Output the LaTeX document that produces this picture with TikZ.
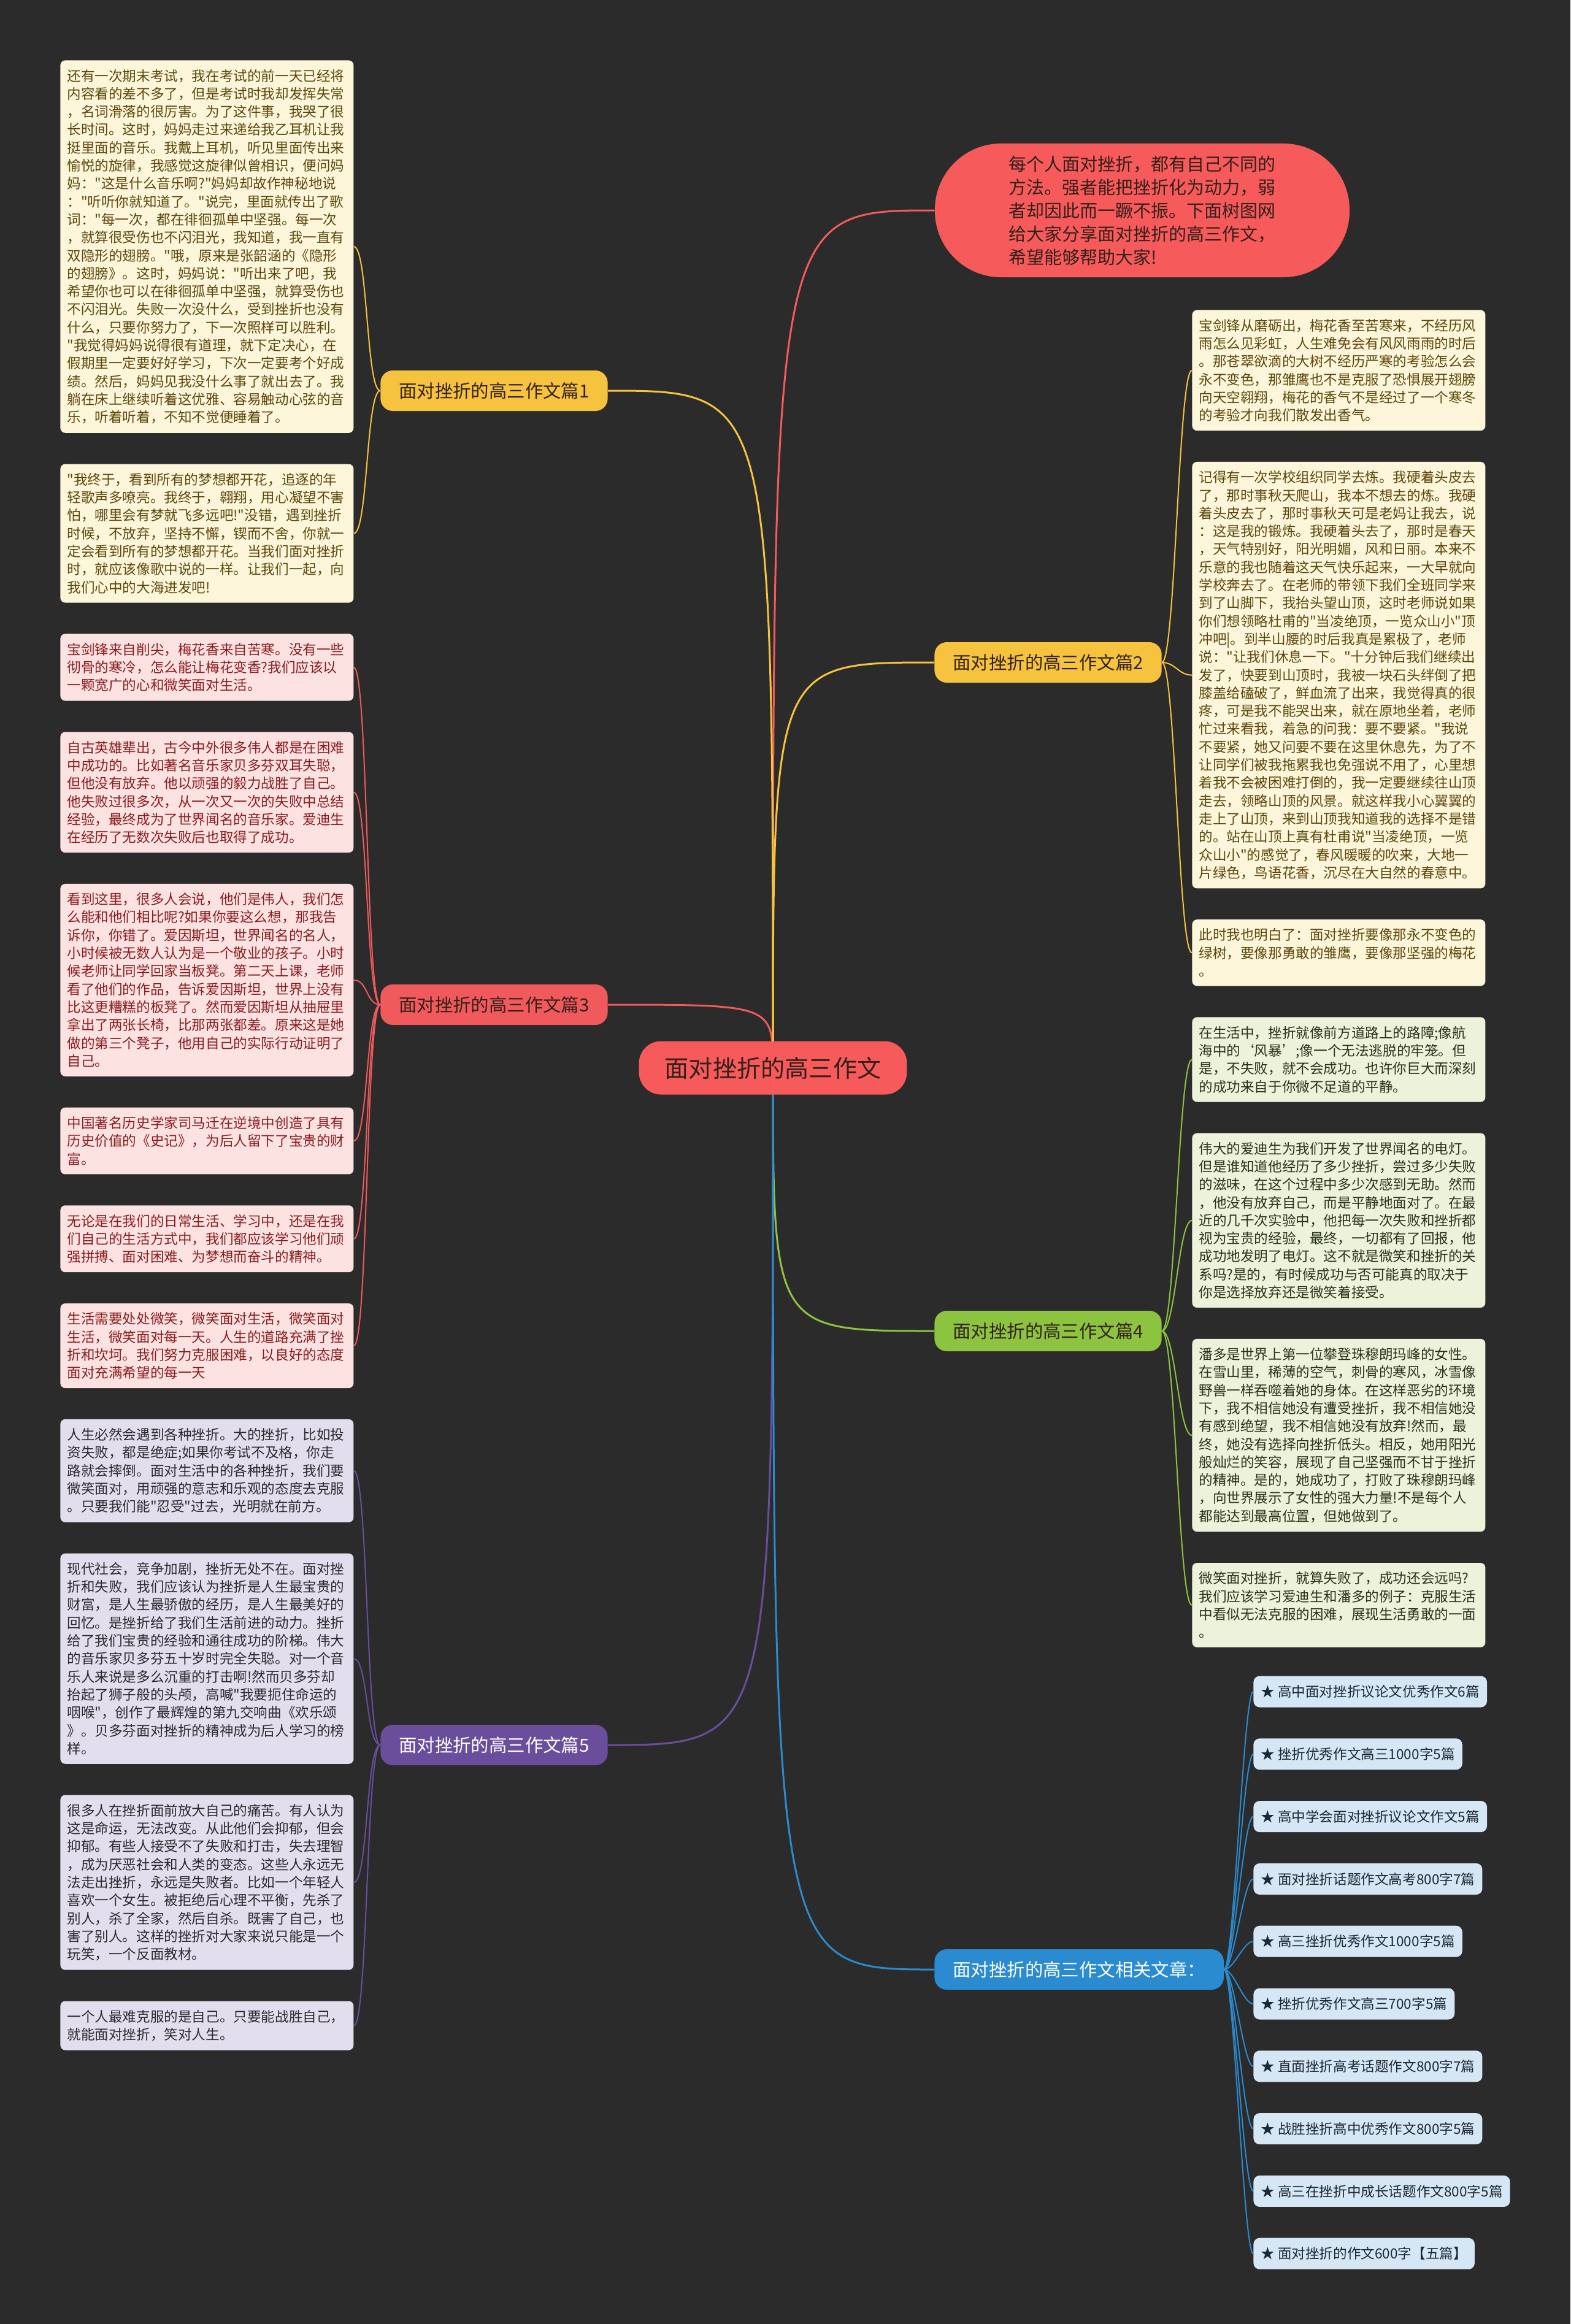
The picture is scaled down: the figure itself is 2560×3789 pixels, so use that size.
\documentclass[tikz,border=0pt]{standalone}
\usepackage{fontspec}
\setmainfont{Noto Sans CJK SC}[Ligatures=TeXOff]
\usetikzlibrary{positioning}
\definecolor{bgdark}{HTML}{2B2B2B}
\definecolor{rootred}{HTML}{F65A5B}
\definecolor{yelbr}{HTML}{F6C33E}
\definecolor{redbr}{HTML}{F05A5C}
\definecolor{purbr}{HTML}{6A4E9C}
\definecolor{grnbr}{HTML}{8CC43F}
\definecolor{blubr}{HTML}{2A8BD0}
\definecolor{yelfill}{HTML}{FDF6DA}
\definecolor{yeltext}{HTML}{5C470A}
\definecolor{redfill}{HTML}{FDE2E2}
\definecolor{redtext}{HTML}{8A1C1E}
\definecolor{purfill}{HTML}{E3DEEE}
\definecolor{purtext}{HTML}{2A2A2E}
\definecolor{grnfill}{HTML}{EDF3DA}
\definecolor{grntext}{HTML}{27331A}
\definecolor{blufill}{HTML}{D5E7F4}
\definecolor{blutext}{HTML}{1C2833}
\definecolor{darkink}{HTML}{33201A}
\pgfdeclarelayer{bg}
\pgfdeclarelayer{links}
\pgfsetlayers{bg,links,main}

\begin{document}
\begin{tikzpicture}[
  x=0.5pt, y=-0.5pt,
  node distance=25pt,
  txt/.style={rounded corners=4pt, text width=228pt, align=left, inner xsep=5.5pt, inner ysep=7.3pt, font=\fontsize{11.3pt}{14.65pt}\selectfont},
  ybox/.style={txt, fill=yelfill, text=yeltext},
  rbox/.style={txt, fill=redfill, text=redtext},
  pbox/.style={txt, fill=purfill, text=purtext},
  gbox/.style={txt, fill=grnfill, text=grntext},
  relbox/.style={rounded corners=5pt, fill=blufill, text=blutext, inner xsep=6pt, minimum height=25.5pt, font=\fontsize{11.3pt}{14pt}\selectfont},
  branch/.style={rounded corners=10pt, minimum height=33pt, inner xsep=15pt, font=\fontsize{14.7pt}{17pt}\selectfont},
  link/.style={line width=1.5pt},
  twig/.style={line width=1pt}
]
\useasboundingbox (0,0) rectangle (2560,3789);
\begin{pgfonlayer}{bg}
\fill[bgdark] (0,0) rectangle (2560,3789);
\end{pgfonlayer}

% root and intro
\node[rounded corners=18pt, fill=rootred, text=darkink, inner xsep=21pt, minimum height=43.5pt, font=\fontsize{19.6pt}{22pt}\selectfont] (root) at (1260,1741) {面对挫折的高三作文};
\node[rounded corners=54pt, fill=rootred, text=darkink, minimum width=338pt, minimum height=109pt, text width=218pt, align=left, font=\fontsize{14.5pt}{19pt}\selectfont] (intro) at (1862,343) {每个人面对挫折，都有自己不同的\\方法。强者能把挫折化为动力，弱\\者却因此而一蹶不振。下面树图网\\给大家分享面对挫折的高三作文，\\希望能够帮助大家!};

% branches
\node[branch, fill=yelbr, text=darkink, anchor=east] (essay1) at (991,637) {面对挫折的高三作文篇1};
\node[branch, fill=redbr, text=darkink, anchor=east] (essay3) at (991,1638) {面对挫折的高三作文篇3};
\node[branch, fill=purbr, text=white, anchor=east] (essay5) at (991,2845) {面对挫折的高三作文篇5};
\node[branch, fill=yelbr, text=darkink, anchor=west] (essay2) at (1523,1080) {面对挫折的高三作文篇2};
\node[branch, fill=grnbr, text=darkink, anchor=west] (essay4) at (1523,2170) {面对挫折的高三作文篇4};
\node[branch, fill=blubr, text=white, anchor=west] (related) at (1523,3211) {面对挫折的高三作文相关文章：};

% left column
\node[ybox, anchor=north west] (e1a) at (98,98) {还有一次期末考试，我在考试的前一天已经将\\内容看的差不多了，但是考试时我却发挥失常\\，名词滑落的很厉害。为了这件事，我哭了很\\长时间。这时，妈妈走过来递给我乙耳机让我\\挺里面的音乐。我戴上耳机，听见里面传出来\\愉悦的旋律，我感觉这旋律似曾相识，便问妈\\妈："这是什么音乐啊?"妈妈却故作神秘地说\\："听听你就知道了。"说完，里面就传出了歌\\词："每一次，都在徘徊孤单中坚强。每一次\\，就算很受伤也不闪泪光，我知道，我一直有\\双隐形的翅膀。"哦，原来是张韶涵的《隐形\\的翅膀》。这时，妈妈说："听出来了吧，我\\希望你也可以在徘徊孤单中坚强，就算受伤也\\不闪泪光。失败一次没什么，受到挫折也没有\\什么，只要你努力了，下一次照样可以胜利。\\"我觉得妈妈说得很有道理，就下定决心，在\\假期里一定要好好学习，下次一定要考个好成\\绩。然后，妈妈见我没什么事了就出去了。我\\躺在床上继续听着这优雅、容易触动心弦的音\\乐，听着听着，不知不觉便睡着了。};
\node[ybox, below=of e1a] (e1b) {"我终于，看到所有的梦想都开花，追逐的年\\轻歌声多嘹亮。我终于，翱翔，用心凝望不害\\怕，哪里会有梦就飞多远吧!"没错，遇到挫折\\时候，不放弃，坚持不懈，锲而不舍，你就一\\定会看到所有的梦想都开花。当我们面对挫折\\时，就应该像歌中说的一样。让我们一起，向\\我们心中的大海进发吧!};
\node[rbox, below=of e1b] (e3a) {宝剑锋来自削尖，梅花香来自苦寒。没有一些\\彻骨的寒冷，怎么能让梅花变香?我们应该以\\一颗宽广的心和微笑面对生活。};
\node[rbox, below=of e3a] (e3b) {自古英雄辈出，古今中外很多伟人都是在困难\\中成功的。比如著名音乐家贝多芬双耳失聪，\\但他没有放弃。他以顽强的毅力战胜了自己。\\他失败过很多次，从一次又一次的失败中总结\\经验，最终成为了世界闻名的音乐家。爱迪生\\在经历了无数次失败后也取得了成功。};
\node[rbox, below=of e3b] (e3c) {看到这里，很多人会说，他们是伟人，我们怎\\么能和他们相比呢?如果你要这么想，那我告\\诉你，你错了。爱因斯坦，世界闻名的名人，\\小时候被无数人认为是一个敬业的孩子。小时\\候老师让同学回家当板凳。第二天上课，老师\\看了他们的作品，告诉爱因斯坦，世界上没有\\比这更糟糕的板凳了。然而爱因斯坦从抽屉里\\拿出了两张长椅，比那两张都差。原来这是她\\做的第三个凳子，他用自己的实际行动证明了\\自己。};
\node[rbox, below=of e3c] (e3d) {中国著名历史学家司马迁在逆境中创造了具有\\历史价值的《史记》，为后人留下了宝贵的财\\富。};
\node[rbox, below=of e3d] (e3e) {无论是在我们的日常生活、学习中，还是在我\\们自己的生活方式中，我们都应该学习他们顽\\强拼搏、面对困难、为梦想而奋斗的精神。};
\node[rbox, below=of e3e] (e3f) {生活需要处处微笑，微笑面对生活，微笑面对\\生活，微笑面对每一天。人生的道路充满了挫\\折和坎坷。我们努力克服困难，以良好的态度\\面对充满希望的每一天};
\node[pbox, below=of e3f] (e5a) {人生必然会遇到各种挫折。大的挫折，比如投\\资失败，都是绝症;如果你考试不及格，你走\\路就会摔倒。面对生活中的各种挫折，我们要\\微笑面对，用顽强的意志和乐观的态度去克服\\。只要我们能"忍受"过去，光明就在前方。};
\node[pbox, below=of e5a] (e5b) {现代社会，竞争加剧，挫折无处不在。面对挫\\折和失败，我们应该认为挫折是人生最宝贵的\\财富，是人生最骄傲的经历，是人生最美好的\\回忆。是挫折给了我们生活前进的动力。挫折\\给了我们宝贵的经验和通往成功的阶梯。伟大\\的音乐家贝多芬五十岁时完全失聪。对一个音\\乐人来说是多么沉重的打击啊!然而贝多芬却\\抬起了狮子般的头颅，高喊"我要扼住命运的\\咽喉"，创作了最辉煌的第九交响曲《欢乐颂\\》。贝多芬面对挫折的精神成为后人学习的榜\\样。};
\node[pbox, below=of e5b] (e5c) {很多人在挫折面前放大自己的痛苦。有人认为\\这是命运，无法改变。从此他们会抑郁，但会\\抑郁。有些人接受不了失败和打击，失去理智\\，成为厌恶社会和人类的变态。这些人永远无\\法走出挫折，永远是失败者。比如一个年轻人\\喜欢一个女生。被拒绝后心理不平衡，先杀了\\别人，杀了全家，然后自杀。既害了自己，也\\害了别人。这样的挫折对大家来说只能是一个\\玩笑，一个反面教材。};
\node[pbox, below=of e5c] (e5d) {一个人最难克服的是自己。只要能战胜自己，\\就能面对挫折，笑对人生。};

% right column
\node[ybox, anchor=north west] (e2a) at (1943,505) {宝剑锋从磨砺出，梅花香至苦寒来，不经历风\\雨怎么见彩虹，人生难免会有风风雨雨的时后\\。那苍翠欲滴的大树不经历严寒的考验怎么会\\永不变色，那雏鹰也不是克服了恐惧展开翅膀\\向天空翱翔，梅花的香气不是经过了一个寒冬\\的考验才向我们散发出香气。};
\node[ybox, below=of e2a] (e2b) {记得有一次学校组织同学去炼。我硬着头皮去\\了，那时事秋天爬山，我本不想去的炼。我硬\\着头皮去了，那时事秋天可是老妈让我去，说\\：这是我的锻炼。我硬着头去了，那时是春天\\，天气特别好，阳光明媚，风和日丽。本来不\\乐意的我也随着这天气快乐起来，一大早就向\\学校奔去了。在老师的带领下我们全班同学来\\到了山脚下，我抬头望山顶，这时老师说如果\\你们想领略杜甫的"当凌绝顶，一览众山小"顶\\冲吧|。到半山腰的时后我真是累极了，老师\\说："让我们休息一下。"十分钟后我们继续出\\发了，快要到山顶时，我被一块石头绊倒了把\\膝盖给磕破了，鲜血流了出来，我觉得真的很\\疼，可是我不能哭出来，就在原地坐着，老师\\忙过来看我，着急的问我：要不要紧。"我说\\不要紧，她又问要不要在这里休息先，为了不\\让同学们被我拖累我也免强说不用了，心里想\\着我不会被困难打倒的，我一定要继续往山顶\\走去，领略山顶的风景。就这样我小心翼翼的\\走上了山顶，来到山顶我知道我的选择不是错\\的。站在山顶上真有杜甫说"当凌绝顶，一览\\众山小"的感觉了，春风暖暖的吹来，大地一\\片绿色，鸟语花香，沉尽在大自然的春意中。};
\node[ybox, below=of e2b] (e2c) {此时我也明白了：面对挫折要像那永不变色的\\绿树，要像那勇敢的雏鹰，要像那坚强的梅花\\。};
\node[gbox, below=of e2c] (e4a) {在生活中，挫折就像前方道路上的路障;像航\\海中的‘风暴’;像一个无法逃脱的牢笼。但\\是，不失败，就不会成功。也许你巨大而深刻\\的成功来自于你微不足道的平静。};
\node[gbox, below=of e4a] (e4b) {伟大的爱迪生为我们开发了世界闻名的电灯。\\但是谁知道他经历了多少挫折，尝过多少失败\\的滋味，在这个过程中多少次感到无助。然而\\，他没有放弃自己，而是平静地面对了。在最\\近的几千次实验中，他把每一次失败和挫折都\\视为宝贵的经验，最终，一切都有了回报，他\\成功地发明了电灯。这不就是微笑和挫折的关\\系吗?是的，有时候成功与否可能真的取决于\\你是选择放弃还是微笑着接受。};
\node[gbox, below=of e4b] (e4c) {潘多是世界上第一位攀登珠穆朗玛峰的女性。\\在雪山里，稀薄的空气，刺骨的寒风，冰雪像\\野兽一样吞噬着她的身体。在这样恶劣的环境\\下，我不相信她没有遭受挫折，我不相信她没\\有感到绝望，我不相信她没有放弃!然而，最\\终，她没有选择向挫折低头。相反，她用阳光\\般灿烂的笑容，展现了自己坚强而不甘于挫折\\的精神。是的，她成功了，打败了珠穆朗玛峰\\，向世界展示了女性的强大力量!不是每个人\\都能达到最高位置，但她做到了。};
\node[gbox, below=of e4c] (e4d) {微笑面对挫折，就算失败了，成功还会远吗?\\我们应该学习爱迪生和潘多的例子：克服生活\\中看似无法克服的困难，展现生活勇敢的一面\\。};

% related articles
\node[relbox, anchor=west] (rel1) at (2043,2758) {★ 高中面对挫折议论文优秀作文6篇};
\node[relbox, below=of rel1.south west, anchor=north west] (rel2) {★ 挫折优秀作文高三1000字5篇};
\node[relbox, below=of rel2.south west, anchor=north west] (rel3) {★ 高中学会面对挫折议论文作文5篇};
\node[relbox, below=of rel3.south west, anchor=north west] (rel4) {★ 面对挫折话题作文高考800字7篇};
\node[relbox, below=of rel4.south west, anchor=north west] (rel5) {★ 高三挫折优秀作文1000字5篇};
\node[relbox, below=of rel5.south west, anchor=north west] (rel6) {★ 挫折优秀作文高三700字5篇};
\node[relbox, below=of rel6.south west, anchor=north west] (rel7) {★ 直面挫折高考话题作文800字7篇};
\node[relbox, below=of rel7.south west, anchor=north west] (rel8) {★ 战胜挫折高中优秀作文800字5篇};
\node[relbox, below=of rel8.south west, anchor=north west] (rel9) {★ 高三在挫折中成长话题作文800字5篇};
\node[relbox, below=of rel9.south west, anchor=north west] (rel10) {★ 面对挫折的作文600字【五篇】};

\begin{pgfonlayer}{links}
% root to branches
\draw[link, rootred] (root.center) .. controls (root.center |- intro.west) .. (intro.west);
\draw[link, yelbr] (root.center) .. controls (root.center |- essay1.east) .. (essay1.east);
\draw[link, redbr] (root.center) .. controls (root.center |- essay3.east) .. (essay3.east);
\draw[link, purbr] (root.center) .. controls (root.center |- essay5.east) .. (essay5.east);
\draw[link, yelbr] (root.center) .. controls (root.center |- essay2.west) .. (essay2.west);
\draw[link, grnbr] (root.center) .. controls (root.center |- essay4.west) .. (essay4.west);
\draw[link, blubr] (root.center) .. controls (root.center |- related.west) .. (related.west);
% branches to texts
\draw[twig, yelbr] (essay1.west) .. controls +(-23,0) and +(23,0) .. (e1a.east);
\draw[twig, yelbr] (essay1.west) .. controls +(-23,0) and +(23,0) .. (e1b.east);
\draw[twig, redbr] (essay3.west) .. controls +(-23,0) and +(23,0) .. (e3a.east);
\draw[twig, redbr] (essay3.west) .. controls +(-23,0) and +(23,0) .. (e3b.east);
\draw[twig, redbr] (essay3.west) .. controls +(-23,0) and +(23,0) .. (e3c.east);
\draw[twig, redbr] (essay3.west) .. controls +(-23,0) and +(23,0) .. (e3d.east);
\draw[twig, redbr] (essay3.west) .. controls +(-23,0) and +(23,0) .. (e3e.east);
\draw[twig, redbr] (essay3.west) .. controls +(-23,0) and +(23,0) .. (e3f.east);
\draw[twig, purbr] (essay5.west) .. controls +(-23,0) and +(23,0) .. (e5a.east);
\draw[twig, purbr] (essay5.west) .. controls +(-23,0) and +(23,0) .. (e5b.east);
\draw[twig, purbr] (essay5.west) .. controls +(-23,0) and +(23,0) .. (e5c.east);
\draw[twig, purbr] (essay5.west) .. controls +(-23,0) and +(23,0) .. (e5d.east);
\draw[twig, yelbr] (essay2.east) .. controls +(22,0) and +(-22,0) .. (e2a.west);
\draw[twig, yelbr] (essay2.east) .. controls +(22,0) and +(-22,0) .. (e2b.west);
\draw[twig, yelbr] (essay2.east) .. controls +(22,0) and +(-22,0) .. (e2c.west);
\draw[twig, grnbr] (essay4.east) .. controls +(22,0) and +(-22,0) .. (e4a.west);
\draw[twig, grnbr] (essay4.east) .. controls +(22,0) and +(-22,0) .. (e4b.west);
\draw[twig, grnbr] (essay4.east) .. controls +(22,0) and +(-22,0) .. (e4c.west);
\draw[twig, grnbr] (essay4.east) .. controls +(22,0) and +(-22,0) .. (e4d.west);
\draw[twig, blubr] (related.east) .. controls +(16,0) and +(-16,0) .. (rel1.west);
\draw[twig, blubr] (related.east) .. controls +(16,0) and +(-16,0) .. (rel2.west);
\draw[twig, blubr] (related.east) .. controls +(16,0) and +(-16,0) .. (rel3.west);
\draw[twig, blubr] (related.east) .. controls +(16,0) and +(-16,0) .. (rel4.west);
\draw[twig, blubr] (related.east) .. controls +(16,0) and +(-16,0) .. (rel5.west);
\draw[twig, blubr] (related.east) .. controls +(16,0) and +(-16,0) .. (rel6.west);
\draw[twig, blubr] (related.east) .. controls +(16,0) and +(-16,0) .. (rel7.west);
\draw[twig, blubr] (related.east) .. controls +(16,0) and +(-16,0) .. (rel8.west);
\draw[twig, blubr] (related.east) .. controls +(16,0) and +(-16,0) .. (rel9.west);
\draw[twig, blubr] (related.east) .. controls +(16,0) and +(-16,0) .. (rel10.west);
\end{pgfonlayer}
\end{tikzpicture}
\end{document}
